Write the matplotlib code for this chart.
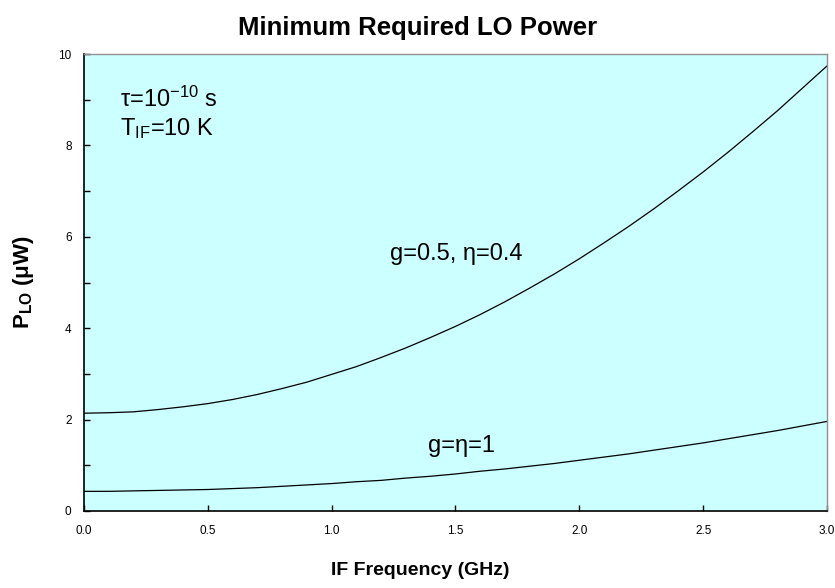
import matplotlib
matplotlib.use('Agg')
import matplotlib.pyplot as plt
from matplotlib.ticker import MultipleLocator

plt.rcParams['font.family'] = ['Liberation Sans', 'DejaVu Sans']
plt.rcParams['mathtext.default'] = 'regular'

# IF frequency (GHz)
freq = [0.0, 0.1, 0.2, 0.3, 0.4, 0.5, 0.6, 0.7, 0.8, 0.9, 1.0,
        1.1, 1.2, 1.3, 1.4, 1.5, 1.6, 1.7, 1.8, 1.9, 2.0,
        2.1, 2.2, 2.3, 2.4, 2.5, 2.6, 2.7, 2.8, 2.9, 3.0]
# g=0.5, eta=0.4
p_upper = [2.14, 2.15, 2.17, 2.22, 2.28, 2.35, 2.44, 2.55, 2.68, 2.82, 2.99,
           3.16, 3.36, 3.57, 3.80, 4.04, 4.30, 4.58, 4.88, 5.19, 5.52,
           5.87, 6.23, 6.61, 7.01, 7.42, 7.85, 8.30, 8.76, 9.25, 9.74]
# g=eta=1
p_lower = [0.43, 0.43, 0.44, 0.45, 0.46, 0.47, 0.49, 0.51, 0.54, 0.57, 0.60,
           0.64, 0.67, 0.72, 0.76, 0.81, 0.87, 0.92, 0.98, 1.04, 1.11,
           1.18, 1.25, 1.33, 1.41, 1.49, 1.58, 1.67, 1.76, 1.86, 1.96]

fig = plt.figure(figsize=(8.35, 5.88), dpi=100)
ax = fig.add_axes([0.1006, 0.131, 0.8898, 0.777])
ax.set_facecolor('#ccffff')

ax.plot(freq, p_upper, color='black', lw=0.9)
ax.plot(freq, p_lower, color='black', lw=0.9)

ax.set_xlim(0, 3.0)
ax.set_ylim(0, 10)
ax.xaxis.set_major_locator(MultipleLocator(0.5))
ax.yaxis.set_major_locator(MultipleLocator(2))
ax.yaxis.set_minor_locator(MultipleLocator(1))
ax.xaxis.set_major_formatter(matplotlib.ticker.FormatStrFormatter('%.1f'))
ax.tick_params(which='both', direction='in', labelsize=8.5, top=False, right=False)
ax.tick_params(which='major', length=4, width=1)
ax.tick_params(which='minor', length=4, width=1)
ax.tick_params(axis='x', pad=10)
ax.tick_params(axis='y', pad=9)

for s in ['left', 'bottom']:
    ax.spines[s].set_color('black')
    ax.spines[s].set_linewidth(1.2)
for s in ['top', 'right']:
    ax.spines[s].set_color('#909090')
    ax.spines[s].set_linewidth(1.0)

ax.text(0.145, 8.84, r'τ=10$^{-10}$ s', fontsize=17)
ax.text(0.145, 8.23, r'T$_{IF}$=10 K', fontsize=17)
ax.text(1.235, 5.49, 'g=0.5, η=0.4', fontsize=17)
ax.text(1.39, 1.29, 'g=η=1', fontsize=17)

fig.text(0.5, 0.953, 'Minimum Required LO Power', ha='center', va='center',
         fontsize=18.5, fontweight='bold')
fig.text(0.503, 0.03, 'IF Frequency (GHz)', ha='center', va='center',
         fontsize=14, fontweight='bold')
fig.text(0.028, 0.52, r'P$_{LO}$ (μW)', ha='center', va='center',
         rotation=90, fontsize=16, fontweight='bold')

fig.savefig('out.png', dpi=100)
